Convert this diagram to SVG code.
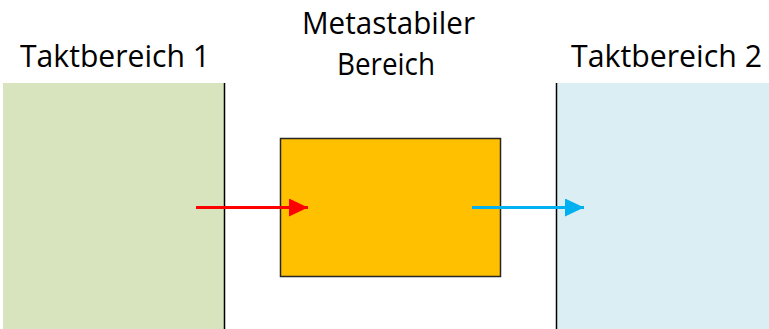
<svg xmlns="http://www.w3.org/2000/svg" width="769" height="329" viewBox="0 0 769 329">
<defs>
<style>
.lbl{font-family:"Open Sans","Noto Sans",sans-serif;font-size:31px;fill:#000}
.div{stroke:#000;stroke-width:1.5}
</style>
<marker id="mr" markerWidth="19" markerHeight="18" refX="19" refY="9" orient="auto" markerUnits="userSpaceOnUse"><path d="M0,0 L19,9 L0,18 Z" fill="#FF0000"/></marker>
<marker id="mb" markerWidth="19" markerHeight="18" refX="19" refY="9" orient="auto" markerUnits="userSpaceOnUse"><path d="M0,0 L19,9 L0,18 Z" fill="#00B0F0"/></marker>
</defs>
<g id="taktbereich1">
<rect x="3" y="83" width="221.5" height="246" fill="#D7E4BD"/>
<line class="div" x1="224.5" y1="83" x2="224.5" y2="329"/>
<text class="lbl" x="20" y="67" textLength="190" lengthAdjust="spacingAndGlyphs">Taktbereich 1</text>
</g>
<g id="taktbereich2">
<rect x="556.5" y="83" width="212.5" height="246" fill="#DAEEF3"/>
<line class="div" x1="556.5" y1="83" x2="556.5" y2="329"/>
<text class="lbl" x="571" y="67" textLength="191" lengthAdjust="spacingAndGlyphs">Taktbereich 2</text>
</g>
<g id="metastabil">
<rect x="280.5" y="138.5" width="220" height="138" fill="#FFC000" stroke="#262626" stroke-width="1.5"/>
<text class="lbl" x="302" y="34" textLength="173" lengthAdjust="spacingAndGlyphs">Metastabiler</text>
<text class="lbl" x="337" y="75" textLength="98" lengthAdjust="spacingAndGlyphs">Bereich</text>
</g>
<g id="connectors">
<line x1="196" y1="207.5" x2="308" y2="207.5" stroke="#FF0000" stroke-width="3" marker-end="url(#mr)"/>
<line x1="472" y1="207.5" x2="584" y2="207.5" stroke="#00B0F0" stroke-width="3" marker-end="url(#mb)"/>
</g>
</svg>
